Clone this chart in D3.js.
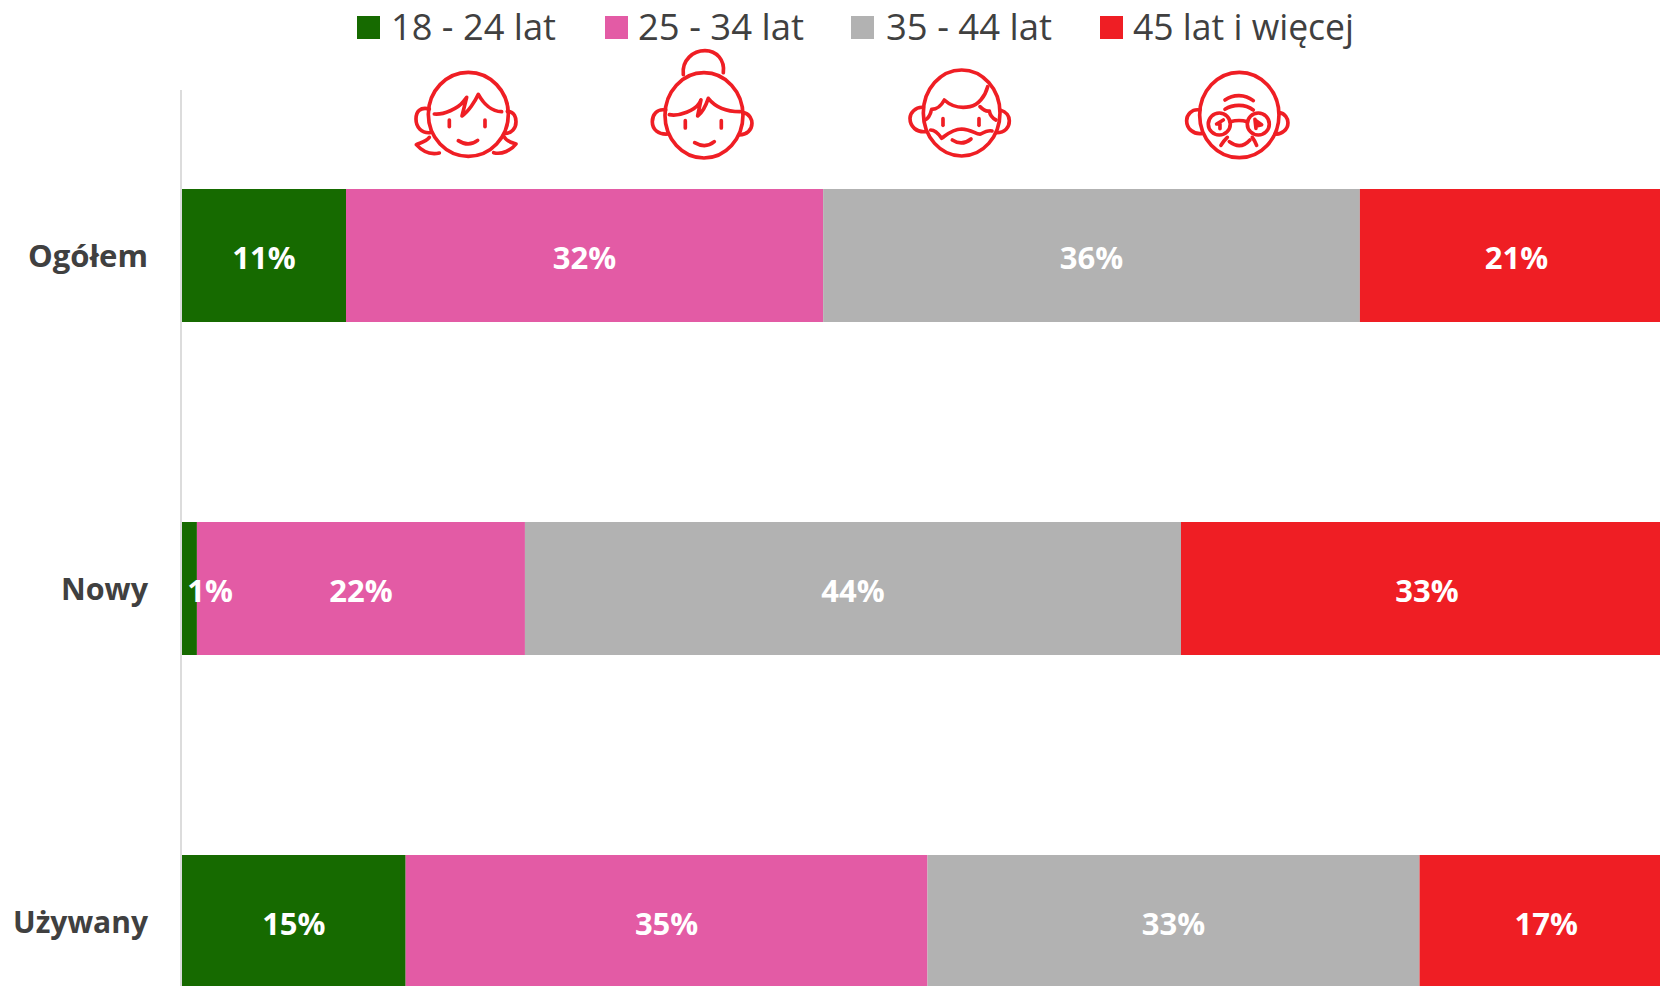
<!DOCTYPE html>
<html>
<head>
<meta charset="utf-8">
<script src="https://cdn.jsdelivr.net/npm/d3@7"></script>
<style>
html,body{margin:0;padding:0;background:#fff;overflow:hidden}
svg{display:block}
text{font-family:"Open Sans",sans-serif}
</style>
</head>
<body>
<svg width="1660" height="986"></svg>
<script>
const categories = ['Ogółem', 'Nowy', 'Używany']
const seriesNames = ['18 - 24 lat', '25 - 34 lat', '35 - 44 lat', '45 lat i więcej']
const seriesColors = ['#166a00', '#e35ba5', '#b2b2b2', '#ef1e24']
const ogolem = [11, 32, 36, 21]
const nowy = [1, 22, 44, 33]
const uzywany = [15, 35, 33, 17]
const values = [ogolem, nowy, uzywany]

const svg = d3.select('svg')
// the chart runs past the right edge of the page, 100% is off screen
const x = d3.scaleLinear().domain([0, 100]).range([182, 1673])
const y = d3.scalePoint().domain(categories).range([255.5, 921.5])
const barHeight = 133

svg.append('line').attr('x1', 181).attr('x2', 181).attr('y1', 90).attr('y2', 986)
	.attr('stroke', '#d0d0d0').attr('stroke-width', 1.5)

const categoryW = [120, 87, 135]
categories.forEach((cat, i) => {
	const g = svg.append('g')
	let sum = 0
	values[i].forEach((v, s) => {
		g.append('rect')
			.attr('x', x(sum)).attr('width', x(sum + v) - x(sum))
			.attr('y', y(cat) - barHeight / 2).attr('height', barHeight)
			.attr('fill', seriesColors[s])
		sum += v
	})
	// labels after all rects, the 1% one hangs over the pink bar
	sum = 0
	values[i].forEach((v, s) => {
		const cx = (cat === 'Nowy' && s === 0) ? 210 : x(sum + v / 2)
		g.append('text').attr('x', cx).attr('y', y(cat) + 3).attr('dy', '0.35em')
			.attr('text-anchor', 'middle').attr('fill', '#fff')
			.attr('font-size', 31).attr('font-weight', 700).text(v + '%')
		sum += v
	})
	svg.append('text').attr('x', 148).attr('y', y(cat) + 1).attr('dy', '0.35em')
		.attr('text-anchor', 'end').attr('fill', '#404040')
		.attr('font-size', 31).attr('font-weight', 700)
		.attr('textLength', categoryW[i]).attr('lengthAdjust', 'spacingAndGlyphs').text(cat)
})

const legendX = [357, 605, 851, 1100]
const legendTextX = [391, 638, 886, 1133]
const legendW = [165, 166, 166, 221]
seriesNames.forEach((name, s) => {
	svg.append('rect').attr('x', legendX[s]).attr('y', 16).attr('width', 23).attr('height', 23).attr('fill', seriesColors[s])
	svg.append('text').attr('x', legendTextX[s]).attr('y', 27).attr('dy', '0.35em')
		.attr('fill', '#404040').attr('font-size', 37)
		.attr('textLength', legendW[s]).attr('lengthAdjust', 'spacingAndGlyphs').text(name)
})

// face icons, traced at 3x from the picture
const iconLeft = svg.append('g').attr('transform', 'translate(400,40) scale(0.3333)')
const iconRight = svg.append('g').attr('transform', 'translate(890,50) scale(0.3333)')
function face(g, cx, cy, rx, ry, paths){
	const f = g.append('g').attr('fill', 'none').attr('stroke', '#ef1e24')
		.attr('stroke-width', 11).attr('stroke-linecap', 'round').attr('stroke-linejoin', 'round')
	f.append('ellipse').attr('cx', cx).attr('cy', cy).attr('rx', rx).attr('ry', ry)
	paths.forEach(d => f.append('path').attr('d', d))
	return f
}
face(iconLeft, 205, 223, 120, 126, [
	'M88,207C60,200 48,215 48,237C48,262 65,280 90,278',
	'M322,214C345,215 348,235 348,245C348,265 335,280 315,280',
	'M103,222C130,225 175,205 190,185L200,172L186,228C205,215 225,185 235,163C250,190 275,215 305,215',
	'M148,240V260', 'M255,240V260',
	'M175,302C195,315 215,315 233,301',
	'M88,292C78,305 62,308 49,314C65,332 90,345 118,339',
	'M313,291C320,305 335,308 348,312C335,330 305,345 281,338'
])
face(iconLeft, 912, 226, 117, 128, [
	'M850,104C845,60 880,32 915,32C950,32 975,60 970,98',
	'M797,210C770,205 757,225 757,245C757,268 775,285 805,282',
	'M1028,217C1050,220 1056,240 1056,250C1056,270 1040,285 1018,285',
	'M808,224C840,230 885,210 898,190L903,180L893,228C910,215 920,190 925,175C945,200 980,215 1020,215',
	'M856,242V264', 'M964,242V264',
	'M884,308C905,320 925,320 943,305'
])
face(iconRight, 215, 189, 115, 129, [
	'M100,172C75,170 60,190 60,205C60,230 80,248 108,245',
	'M330,180C350,185 358,200 358,212C358,232 345,248 320,248',
	'M105,210C118,205 122,190 125,178C145,178 155,165 163,150C185,170 215,175 240,170C265,165 285,140 293,110',
	'M270,170C280,180 290,185 298,183C300,195 308,205 318,210',
	'M159,206V226', 'M267,206V226',
	'M122,240C135,240 145,250 155,265C170,255 185,238 215,237C245,238 260,255 272,252C285,245 295,240 306,243',
	'M187,270C205,282 225,282 243,267'
])
const oldFace = face(iconRight, 1048, 195, 119, 128, [
	'M930,180C905,175 890,195 890,212C890,235 910,255 938,250',
	'M1168,188C1185,190 1194,205 1194,218C1194,238 1175,255 1155,252',
	'M1005,150C1030,132 1065,132 1090,152',
	'M1005,178C1030,162 1065,162 1090,180',
	'M1021,215C1040,210 1055,210 1072,215',
	'M1000,210L980,222L990,222L990,236',
	'M1095,208L1098,235M1098,212L1115,224L1100,228',
	'M1018,275C1040,292 1060,292 1080,270',
	'M1012,262C1003,270 998,278 993,286',
	'M1087,262C1093,270 1097,278 1100,286'
])
oldFace.append('circle').attr('cx', 988).attr('cy', 222).attr('r', 33)
oldFace.append('circle').attr('cx', 1105).attr('cy', 222).attr('r', 33)
</script>
</body>
</html>
